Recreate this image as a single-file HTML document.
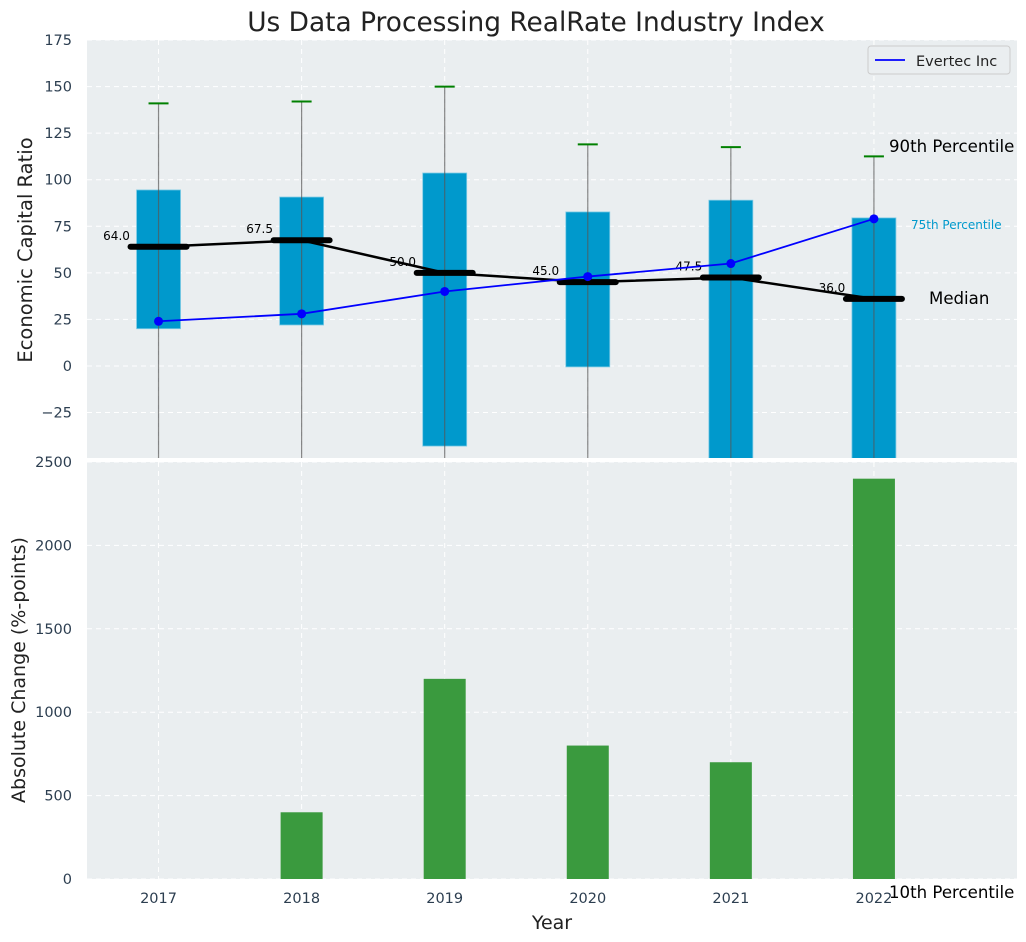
<!DOCTYPE html>
<html><head><meta charset="utf-8"><style>
body{margin:0;background:#fff;}
svg{display:block;font-family:"DejaVu Sans","Liberation Sans",sans-serif;}
</style></head><body>
<svg id="chart" width="1026" height="942" viewBox="0 0 1026 942" xmlns="http://www.w3.org/2000/svg">
<text x="536" y="31" text-anchor="middle" font-size="26.4" fill="#222">Us Data Processing RealRate Industry Index</text>
<g id="topAx"></g><g id="botAx"></g>
</svg>
<script>
const years=[2017,2018,2019,2020,2021,2022];
const p75=[94.5,90.7,103.6,82.7,89,79.5];
const p25=[20,22,-43,-0.5,-60,-60];
const p90=[141,142,150,119,117.5,112.5];
const p10=[-80,-80,-80,-80,-80,-80];
const medians=[64,67.5,50,45,47.5,36];
const evertec=[24,28,40,48,55,79];
const changes=[0,400,1200,800,700,2400];
const topTicks=[-25,0,25,50,75,100,125,150,175];
const botTicks=[0,500,1000,1500,2000,2500];

const NS="http://www.w3.org/2000/svg";
function el(parent,tag,attrs,text){const e=document.createElementNS(NS,tag);for(const k in attrs)e.setAttribute(k,attrs[k]);if(text!==undefined)e.textContent=text;parent.appendChild(e);return e;}
const L=87,R=1017;
const xs=v=>L+(v-2016.5)/(6.5)*(R-L);
const T0=40,T1=458,tMin=-49.4,tMax=175;
const yt=v=>T1-(v-tMin)/(tMax-tMin)*(T1-T0);
const B0=462,B1=879;
const yb=v=>B1-v/2500*(B1-B0);
const topG=document.getElementById('topAx'),botG=document.getElementById('botAx');

let bg=el(topG,'rect',{x:L,y:T0,width:R-L,height:T1-T0,fill:'#eaeef0'});


const clip=el(document.getElementById('chart'),'clipPath',{id:'ct'});el(clip,'rect',{x:L,y:T0,width:R-L,height:T1-T0});
topTicks.forEach(t=>{
 el(topG,'line',{x1:L,x2:R,y1:yt(t),y2:yt(t),stroke:'#fff','stroke-dasharray':'5,4','stroke-width':1});
 const lb=el(topG,'text',{x:L-15,y:yt(t)+5,'text-anchor':'end','font-size':14.5,fill:'#2c3e50'},String(t).replace('-','−'));
 
 
});
years.forEach(y=>el(topG,'line',{x1:xs(y),x2:xs(y),y1:T0,y2:T1,stroke:'#fff','stroke-dasharray':'5,4'}));
const g=el(topG,'g',{'clip-path':'url(#ct)'});
years.forEach((y,i)=>{
 const x=xs(y),w=44;
 const b=el(g,'rect',{x:x-w/2,y:yt(p75[i]),width:w,height:yt(p25[i])-yt(p75[i]),fill:'#0099cc',stroke:'#7fcbe5','stroke-width':0.8});
 
 
 el(g,'line',{x1:x,x2:x,y1:yt(p90[i]),y2:yt(p10[i]),stroke:'#555','stroke-opacity':0.7,'stroke-width':1.2});
 const c=el(g,'line',{x1:x-10,x2:x+10,y1:yt(p90[i]),y2:yt(p90[i]),stroke:'green','stroke-width':2});
 
 
});
el(g,'polyline',{points:years.map((y,i)=>xs(y)+','+yt(medians[i])).join(' '),fill:'none',stroke:'#000','stroke-width':2.5});
years.forEach((y,i)=>{
 const x=xs(y);
 const m=el(g,'line',{x1:x-28,x2:x+28,y1:yt(medians[i]),y2:yt(medians[i]),stroke:'#000','stroke-width':6,'stroke-linecap':'round'});
 
 
 const t=el(g,'text',{x:x-42,y:yt(medians[i])-7,'font-size':12,'text-anchor':'middle',fill:'#000'},medians[i].toFixed(1));
 
 
});
const ev=el(g,'polyline',{points:years.map((y,i)=>xs(y)+','+yt(evertec[i])).join(' '),fill:'none',stroke:'#0000ff','stroke-width':1.8});


years.forEach((y,i)=>{const p=el(g,'circle',{cx:xs(y),cy:yt(evertec[i]),r:4.5,fill:'#0000ff'});
 
 });
let a;
a=el(topG,'text',{x:889,y:152,'font-size':16.6,fill:'#000'},'90th Percentile');


a=el(topG,'text',{x:911,y:229,'font-size':12,fill:'#0099cc'},'75th Percentile');


a=el(topG,'text',{x:929,y:304,'font-size':16.6,fill:'#000'},'Median');


const lg=el(topG,'g',{});


el(lg,'rect',{x:868,y:46,width:142,height:28,rx:3,fill:'#eaeef0',stroke:'#ccc'});
el(lg,'line',{x1:875,x2:905,y1:60,y2:60,stroke:'#0000ff','stroke-width':1.8});
el(lg,'text',{x:916,y:66,'font-size':14.5,fill:'#222'},'Evertec Inc');
a=el(topG,'text',{x:32,y:250,'font-size':19.5,fill:'#222','text-anchor':'middle',transform:'rotate(-90 32 250)'},'Economic Capital Ratio');



bg=el(botG,'rect',{x:L,y:B0,width:R-L,height:B1-B0,fill:'#eaeef0'});


botTicks.forEach(t=>{
 el(botG,'line',{x1:L,x2:R,y1:yb(t),y2:yb(t),stroke:'#fff','stroke-dasharray':'5,4'});
 const lb=el(botG,'text',{x:L-15,y:yb(t)+5,'text-anchor':'end','font-size':14.5,fill:'#2c3e50'},String(t));
 
 
});
years.forEach((y,i)=>{
 el(botG,'line',{x1:xs(y),x2:xs(y),y1:B0,y2:B1,stroke:'#fff','stroke-dasharray':'5,4'});
 const b=el(botG,'rect',{x:xs(y)-21,y:yb(changes[i]),width:42,height:yb(0)-yb(changes[i]),fill:'#3a9a3e'});
 
 
 const lb=el(botG,'text',{x:xs(y),y:903,'text-anchor':'middle','font-size':14.5,fill:'#2c3e50'},String(y));
 
 
});
a=el(botG,'text',{x:889,y:898,'font-size':16.6,fill:'#000'},'10th Percentile');


a=el(botG,'text',{x:552,y:929,'font-size':19,fill:'#222','text-anchor':'middle'},'Year');


a=el(botG,'text',{x:25,y:670,'font-size':19,fill:'#222','text-anchor':'middle',transform:'rotate(-90 25 670)'},'Absolute Change (%-points)');


</script>
</body></html>
